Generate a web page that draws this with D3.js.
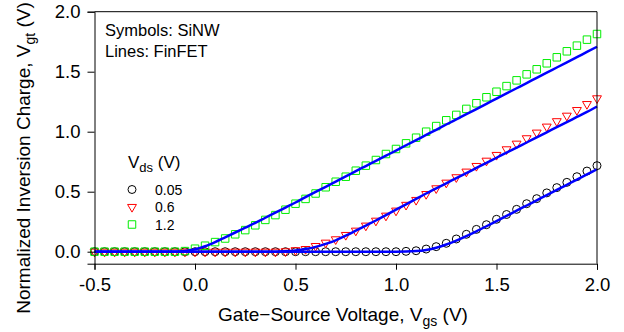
<!DOCTYPE html>
<html>
<head>
<meta charset="utf-8">
<script src="https://cdn.jsdelivr.net/npm/d3@7"></script>
<style>
  body { margin: 0; background: #fff; }
  svg { font-family: "Liberation Sans", Arial, sans-serif; }
</style>
</head>
<body>
<svg id="chart" width="624" height="332"></svg>
<script>
// gate-source voltage grid (V)
var vgs = [-0.5, -0.45, -0.4, -0.35, -0.3, -0.25, -0.2, -0.15, -0.1, -0.05,
  0.0, 0.05, 0.1, 0.15, 0.2, 0.25, 0.3, 0.35, 0.4, 0.45,
  0.5, 0.55, 0.6, 0.65, 0.7, 0.75, 0.8, 0.85, 0.9, 0.95,
  1.0, 1.05, 1.1, 1.15, 1.2, 1.25, 1.3, 1.35, 1.4, 1.45,
  1.5, 1.55, 1.6, 1.65, 1.7, 1.75, 1.8, 1.85, 1.9, 1.95, 2.0];

// SiNW symbols
var sinw005 = [0, 0, 0, 0, 0, 0, 0, 0, 0, 0,
  0, 0, 0, 0, 0, 0, 0, 0, 0, 0,
  0, 0, 0, 0, 0, 0, 0, 0, 0, 0,
  0, 0.003, 0.008, 0.022, 0.042, 0.07, 0.106, 0.145, 0.186, 0.225,
  0.27, 0.31, 0.353, 0.4, 0.442, 0.49, 0.534, 0.578, 0.625, 0.672, 0.717];
var sinw06 = [0, 0, 0, 0, 0, 0, 0, 0, 0, 0,
  0, 0, 0, 0, 0, 0, 0, 0, 0, 0.003,
  0.012, 0.022, 0.047, 0.075, 0.103, 0.139, 0.175, 0.217, 0.258, 0.3,
  0.342, 0.39, 0.431, 0.48, 0.528, 0.575, 0.62, 0.667, 0.714, 0.758,
  0.806, 0.853, 0.9, 0.945, 0.992, 1.042, 1.087, 1.133, 1.18, 1.23, 1.278];
var sinw12 = [0, 0, 0, 0, 0, 0, 0, 0, 0, 0.005,
  0.025, 0.05, 0.08, 0.11, 0.145, 0.18, 0.22, 0.265, 0.305, 0.35,
  0.4, 0.44, 0.485, 0.537, 0.583, 0.625, 0.675, 0.717, 0.764, 0.814,
  0.856, 0.903, 0.95, 1.0, 1.047, 1.095, 1.14, 1.19, 1.237, 1.287,
  1.333, 1.38, 1.428, 1.478, 1.52, 1.57, 1.62, 1.67, 1.717, 1.767, 1.814];

// FinFET lines
var fin005 = [0, 0, 0, 0, 0, 0, 0, 0, 0, 0,
  0, 0, 0, 0, 0, 0, 0, 0, 0, 0,
  0, 0, 0, 0, 0, 0, 0, 0, 0, 0,
  0, 0.001, 0.005, 0.015, 0.033, 0.06, 0.092, 0.13, 0.17, 0.212,
  0.255, 0.298, 0.342, 0.385, 0.428, 0.472, 0.515, 0.558, 0.601, 0.644, 0.687];
var fin06 = [0, 0, 0, 0, 0, 0, 0, 0, 0, 0,
  0, 0, 0, 0, 0, 0, 0, 0, 0, 0.003,
  0.01, 0.022, 0.04, 0.065, 0.095, 0.133, 0.175, 0.218, 0.26, 0.305,
  0.35, 0.395, 0.44, 0.485, 0.528, 0.57, 0.613, 0.655, 0.698, 0.74,
  0.783, 0.825, 0.868, 0.91, 0.953, 0.995, 1.038, 1.08, 1.123, 1.165, 1.21];
var fin12 = [0, 0, 0, 0, 0, 0, 0, 0, 0, 0.005,
  0.02, 0.045, 0.08, 0.12, 0.16, 0.2, 0.24, 0.283, 0.325, 0.368,
  0.41, 0.455, 0.498, 0.541, 0.584, 0.627, 0.671, 0.714, 0.757, 0.8,
  0.843, 0.887, 0.93, 0.973, 1.016, 1.06, 1.103, 1.146, 1.189, 1.232,
  1.276, 1.319, 1.362, 1.405, 1.449, 1.492, 1.535, 1.578, 1.621, 1.665, 1.708];

var xTicks = [-0.5, 0.0, 0.5, 1.0, 1.5, 2.0];
var yTicks = [0.0, 0.5, 1.0, 1.5, 2.0];
var legendLabels = ["0.05", "0.6", "1.2"];

var svg = d3.select("#chart");
var x = d3.scaleLinear().domain([-0.5, 2.0]).range([94.5, 597]);
var y = d3.scaleLinear().domain([-0.1, 2.0]).range([263.7, 11.7]);

var symCircle = d3.symbol().type(d3.symbolCircle).size(50);
var symTri = d3.symbol().type(d3.symbolTriangle).size(34);
var symSquare = d3.symbol().type(d3.symbolSquare).size(56);

var series = [
  { vals: sinw005, sym: symCircle, color: "#000000", rot: 0 },
  { vals: sinw06, sym: symTri, color: "#ff0000", rot: 180 },
  { vals: sinw12, sym: symSquare, color: "#00ee00", rot: 0 }
];

// markers first, lines drawn over them
var gm = svg.append("g").attr("class", "markers");
series.forEach(function(s) {
  gm.append("g").selectAll("path")
    .data(vgs.map(function(v, i) { return [v, s.vals[i]]; }))
    .join("path")
      .attr("d", s.sym())
      .attr("transform", function(d) {
        return "translate(" + x(d[0]) + "," + y(d[1]) + ") rotate(" + s.rot + ")";
      })
      .attr("fill", "none")
      .attr("stroke", s.color)
      .attr("stroke-width", 1);
});

var lineGen = d3.line()
  .x(function(d) { return x(d[0]); })
  .y(function(d) { return y(d[1]); })
  .curve(d3.curveMonotoneX);

svg.append("g").attr("class", "lines")
  .selectAll("path")
  .data([fin005, fin06, fin12])
  .join("path")
    .attr("d", function(vals) { return lineGen(vgs.map(function(v, i) { return [v, vals[i]]; })); })
    .attr("fill", "none")
    .attr("stroke", "#0000ff")
    .attr("stroke-width", 2.5);

// frame
svg.append("path")
  .attr("d", "M" + x(-0.5) + "," + y(2.0) + "H" + x(2.0) + "V" + y(-0.1))
  .attr("fill", "none").attr("stroke", "#000").attr("stroke-width", 1);

var fmt = function(d) { return d3.format(".1f")(d).replace("\u2212", "-"); };

var gX = svg.append("g")
  .attr("transform", "translate(0," + y(-0.1) + ")")
  .call(d3.axisBottom(x).tickValues(xTicks).tickFormat(fmt).tickSizeOuter(0).tickSize(6).tickPadding(8));
var gY = svg.append("g")
  .attr("transform", "translate(" + x(-0.5) + ",0)")
  .call(d3.axisLeft(y).tickValues(yTicks).tickFormat(fmt).tickSizeOuter(0).tickSize(7).tickPadding(7));

[gX, gY].forEach(function(g) {
  g.selectAll("text").attr("font-size", 18.5).attr("fill", "#000")
    .attr("font-family", "'Liberation Sans', Arial, sans-serif");
  g.select(".domain").attr("stroke", "#000");
  g.selectAll(".tick line").attr("stroke", "#000");
});

// axis titles
var xt = svg.append("text")
  .attr("x", 343).attr("y", 321)
  .attr("text-anchor", "middle").attr("font-size", 19);
xt.append("tspan").text("Gate\u2212Source Voltage, V");
xt.append("tspan").attr("font-size", 14).attr("dy", 5).text("gs");
xt.append("tspan").attr("dy", -5).text(" (V)");

var yt = svg.append("text")
  .attr("transform", "translate(30,158) rotate(-90)")
  .attr("text-anchor", "middle").attr("font-size", 19);
yt.append("tspan").text("Normalized Inversion Charge, V");
yt.append("tspan").attr("font-size", 14).attr("dy", 5).text("gt");
yt.append("tspan").attr("dy", -5).text(" (V)");

// annotations
svg.append("text").attr("x", 105).attr("y", 36).attr("font-size", 16.5).text("Symbols: SiNW");
svg.append("text").attr("x", 105).attr("y", 57).attr("font-size", 16.5).text("Lines: FinFET");

// legend
var lt = svg.append("text").attr("x", 128).attr("y", 168).attr("font-size", 17);
lt.append("tspan").text("V");
lt.append("tspan").attr("font-size", 13).attr("dy", 4).text("ds");
lt.append("tspan").attr("dy", -4).text(" (V)");

var lg = svg.append("g").selectAll("g")
  .data(series)
  .join("g")
    .attr("transform", function(d, i) { return "translate(0," + (189.5 + i * 17.5) + ")"; });
lg.append("path")
  .attr("d", function(s) { return s.sym(); })
  .attr("transform", function(s) { return "translate(132,0) rotate(" + s.rot + ")"; })
  .attr("fill", "none")
  .attr("stroke", function(s) { return s.color; })
  .attr("stroke-width", 1);
lg.append("text")
  .attr("x", 155).attr("y", 5).attr("font-size", 14)
  .text(function(s, i) { return legendLabels[i]; });
</script>
</body>
</html>
